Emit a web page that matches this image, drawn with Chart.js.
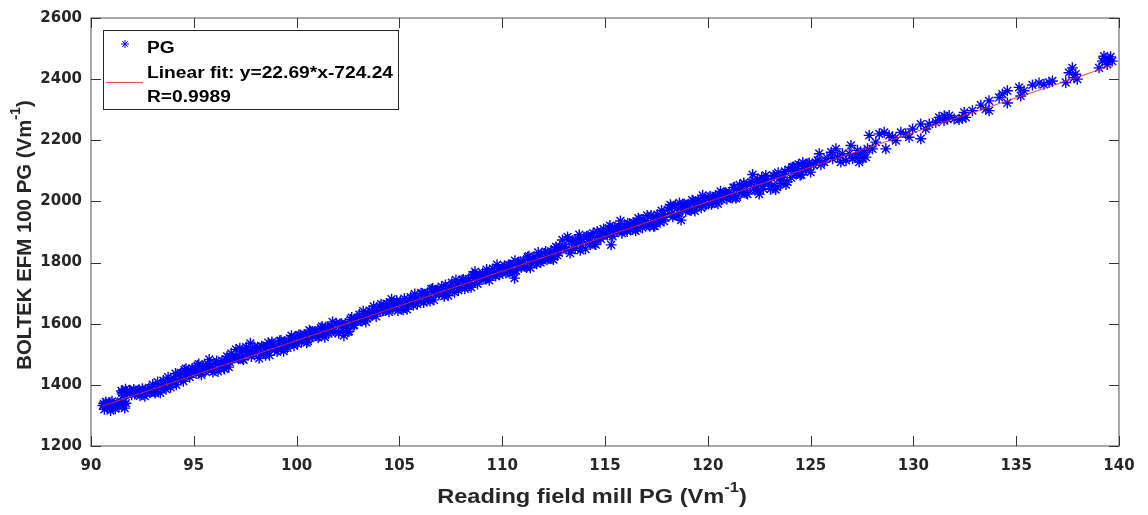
<!DOCTYPE html>
<html>
<head>
<meta charset="utf-8">
<script src="https://cdn.jsdelivr.net/npm/chart.js@4.4.1/dist/chart.umd.min.js"></script>
<style>
    html, body { margin: 0; padding: 0; background: #fff; }
    #wrap { width: 1148px; height: 515px; }
</style>
</head>
<body>
<div id="wrap"><canvas id="chart" width="1148" height="515"></canvas></div>
<script>
// Reading field mill PG (x) vs BOLTEK EFM 100 PG (y)
const fieldMill = [
    90.58, 90.65, 90.72, 90.8, 90.88, 90.95,
    91.02, 91.1, 91.18, 91.27, 91.36, 91.45, 91.55, 91.64, 91.7, 91.48, 91.58, 91.68, 91.78, 91.88, 91.98,
    92.08, 92.18, 92.28, 92.38, 92.5, 92.62, 92.75, 92.88,
    93.0, 93.12, 93.25, 93.4, 93.52, 93.65, 93.78, 93.9,
    94.02, 94.15, 94.3, 94.42, 94.55, 94.68, 94.8, 94.92,
    95.05, 95.18, 95.3, 95.43, 95.55, 95.68, 95.8, 95.93,
    96.05, 96.18, 96.3, 96.45, 96.58, 96.7, 96.82, 96.95,
    97.05, 97.18, 97.3, 97.42, 97.55, 97.68, 97.8, 97.93,
    98.05, 98.18, 98.3, 98.42, 98.55, 98.68, 98.8, 98.93,
    99.05, 99.18, 99.3, 99.42, 99.55, 99.68, 99.8, 99.93,
    100.05, 100.18, 100.3, 100.42, 100.55, 100.68, 100.8, 100.93,
    101.05, 101.18, 101.3, 101.42, 101.55, 101.68, 101.8, 101.93,
    102.05, 102.18, 102.3, 102.42, 102.55, 102.68, 102.8, 102.93,
    103.05, 103.18, 103.3, 103.42, 103.55, 103.68, 103.8, 103.93,
    104.05, 104.18, 104.3, 104.42, 104.55, 104.68, 104.8, 104.93,
    105.05, 105.18, 105.3, 105.42, 105.55, 105.68, 105.8, 105.93,
    106.05, 106.18, 106.3, 106.42, 106.55, 106.68, 106.8, 106.93,
    107.05, 107.18, 107.3, 107.42, 107.55, 107.68, 107.8, 107.93,
    108.05, 108.18, 108.3, 108.42, 108.55, 108.68, 108.8, 108.93,
    109.05, 109.18, 109.3, 109.42, 109.55, 109.68, 109.8, 109.93,
    110.05, 110.18, 110.3, 110.42, 110.55, 110.6, 110.68, 110.8, 110.93,
    111.05, 111.18, 111.3, 111.42, 111.55, 111.68, 111.8, 111.93,
    112.05, 112.18, 112.3, 112.42, 112.55, 112.68, 112.8, 112.93,
    113.05, 113.18, 113.3, 113.42, 113.55, 113.68, 113.8, 113.93,
    114.05, 114.18, 114.3, 114.42, 114.55, 114.68, 114.8, 114.93,
    115.05, 115.18, 115.3, 115.32, 115.45, 115.58, 115.7, 115.82, 115.95,
    116.08, 116.2, 116.32, 116.45, 116.58, 116.7, 116.82, 116.95,
    117.05, 117.18, 117.3, 117.42, 117.55, 117.68, 117.8, 117.93,
    118.05, 118.18, 118.3, 118.42, 118.55, 118.68, 118.7, 118.8, 118.93,
    119.05, 119.18, 119.3, 119.42, 119.55, 119.68, 119.8, 119.93,
    120.05, 120.18, 120.3, 120.42, 120.55, 120.68, 120.8, 120.93,
    121.05, 121.18, 121.3, 121.42, 121.55, 121.68, 121.8, 121.93,
    122.05, 122.18, 122.3, 122.42, 122.5, 122.58, 122.7, 122.82, 122.95,
    123.05, 123.18, 123.3, 123.42, 123.55, 123.68, 123.8, 123.93,
    124.05, 124.18, 124.3, 124.42, 124.55, 124.68, 124.8, 124.93,
    125.0, 125.15, 125.25, 125.34, 125.42, 125.5, 125.66, 125.8,
    126.0, 126.07, 126.23, 126.31, 126.47, 126.55, 126.72, 126.88, 126.96,
    127.04, 127.2, 127.28, 127.36, 127.44, 127.53, 127.61, 127.69, 127.77, 127.85,
    128.01, 128.17, 128.34, 128.58, 128.66, 128.82, 128.98,
    129.15, 129.39, 129.63, 129.79, 129.96,
    130.36, 130.36, 130.6, 130.77,
    131.09, 131.25, 131.49, 131.5, 131.66, 131.74, 131.98,
    132.22, 132.38, 132.47, 132.55, 132.87,
    133.28, 133.52, 133.68, 133.68,
    134.17, 134.33, 134.57, 134.57,
    135.14, 135.22, 135.38, 135.79,
    136.11, 136.35, 136.6, 136.76,
    137.41, 137.57, 137.73, 137.81, 137.89, 137.97,
    139.03, 139.19, 139.27, 139.35, 139.43, 139.51, 139.59, 139.67,
    // second pass through the dense part of the band
    90.62, 90.76, 90.92, 91.06, 91.22, 91.4, 91.6, 91.52, 91.73, 91.93,
    92.13, 92.33, 92.45, 92.56, 92.7, 92.82, 92.95,
    93.11, 93.24, 93.37, 93.49, 93.62, 93.75, 93.87,
    94.11, 94.24, 94.37, 94.49, 94.62, 94.75, 94.87,
    95.11, 95.24, 95.37, 95.49, 95.62, 95.75, 95.87,
    96.11, 96.24, 96.37, 96.49, 96.62, 96.75, 96.87,
    97.11, 97.24, 97.37, 97.49, 97.62, 97.75, 97.87,
    98.11, 98.24, 98.37, 98.49, 98.62, 98.75, 98.87,
    99.11, 99.24, 99.37, 99.49, 99.62, 99.75, 99.87,
    100.11, 100.24, 100.37, 100.49, 100.62, 100.75, 100.87,
    101.11, 101.24, 101.37, 101.49, 101.62, 101.75, 101.87,
    102.11, 102.24, 102.37, 102.49, 102.62, 102.75, 102.87,
    103.11, 103.24, 103.37, 103.49, 103.62, 103.75, 103.87,
    104.11, 104.24, 104.37, 104.49, 104.62, 104.75, 104.87,
    105.11, 105.24, 105.37, 105.49, 105.62, 105.75, 105.87,
    106.11, 106.24, 106.37, 106.49, 106.62, 106.75, 106.87,
    107.11, 107.24, 107.37, 107.49, 107.62, 107.75, 107.87,
    108.11, 108.24, 108.37, 108.49, 108.62, 108.75, 108.87,
    109.11, 109.24, 109.37, 109.49, 109.62, 109.75, 109.87,
    110.11, 110.24, 110.37, 110.49, 110.62, 110.75, 110.87,
    111.11, 111.24, 111.37, 111.49, 111.62, 111.75, 111.87,
    112.11, 112.24, 112.37, 112.49, 112.62, 112.75, 112.87,
    113.11, 113.24, 113.37, 113.49, 113.62, 113.75, 113.87,
    114.11, 114.24, 114.37, 114.49, 114.62, 114.75, 114.87,
    115.11, 115.24, 115.37, 115.49, 115.62, 115.75, 115.87,
    116.11, 116.24, 116.37, 116.49, 116.62, 116.75, 116.87,
    117.11, 117.24, 117.37, 117.49, 117.62, 117.75, 117.87,
    118.11, 118.24, 118.37, 118.49, 118.62, 118.75, 118.87,
    119.11, 119.24, 119.37, 119.49, 119.62, 119.75, 119.87,
    120.11, 120.24, 120.37, 120.49, 120.62, 120.75, 120.87,
    121.11, 121.24, 121.37, 121.49, 121.62, 121.75, 121.87,
    122.11, 122.24, 122.37, 122.49, 122.62, 122.75, 122.87,
    123.11, 123.24, 123.37, 123.49, 123.62, 123.75, 123.87,
    124.11, 124.24, 124.37, 124.49, 124.62, 124.75, 124.87
];
const boltek = [
    1332, 1320, 1344, 1326, 1338, 1316,
    1346, 1330, 1322, 1340, 1328, 1345, 1334, 1324, 1340, 1380, 1366, 1386, 1372, 1382, 1368,
    1385, 1374, 1378, 1364, 1387, 1363, 1385, 1375,
    1401, 1373, 1396, 1389, 1414, 1386, 1412, 1402,
    1421, 1400, 1435, 1420, 1449, 1434, 1425, 1454,
    1446, 1463, 1442, 1459, 1444, 1469, 1457, 1442,
    1469, 1444, 1467, 1456, 1483, 1458, 1503, 1488,
    1516, 1485, 1508, 1482, 1523, 1506, 1493, 1524,
    1511, 1487, 1526, 1503, 1526, 1497, 1540, 1522,
    1509, 1544, 1523, 1542, 1521, 1552, 1536, 1555,
    1534, 1563, 1550, 1564, 1543, 1575, 1557, 1574,
    1555, 1586, 1570, 1589, 1568, 1593, 1578, 1601,
    1569, 1600, 1561, 1592, 1575, 1620, 1596, 1617,
    1630, 1609, 1630, 1618, 1643, 1628, 1645, 1638,
    1657, 1642, 1658, 1649, 1668, 1649, 1666, 1643,
    1673, 1646, 1671, 1658, 1687, 1660, 1684, 1673,
    1700, 1669, 1694, 1680, 1713, 1678, 1709, 1698,
    1721, 1690, 1716, 1703, 1734, 1703, 1730, 1719,
    1743, 1714, 1737, 1724, 1759, 1770, 1730, 1757,
    1766, 1747, 1768, 1759, 1780, 1756, 1781, 1768,
    1783, 1766, 1792, 1775, 1796, 1749, 1773, 1798, 1785,
    1807, 1784, 1821, 1800, 1819, 1796, 1820, 1807,
    1830, 1809, 1830, 1813, 1844, 1824, 1853, 1874,
    1851, 1884, 1831, 1871, 1846, 1879, 1840, 1875,
    1844, 1887, 1861, 1896, 1859, 1896, 1877, 1910,
    1894, 1913, 1858, 1894, 1915, 1904, 1917, 1896, 1919,
    1902, 1926, 1909, 1928, 1911, 1940, 1914, 1935,
    1954, 1919, 1945, 1920, 1957, 1932, 1959, 1948,
    1972, 1989, 1950, 1987, 1952, 1979, 1939, 1991, 1968,
    1991, 1970, 2001, 1981, 2002, 1979, 2004, 1991,
    2012, 1991, 2013, 1998, 2023, 2006, 2027, 2008,
    2030, 2011, 2046, 2015, 2054, 2031, 2053, 2024,
    2055, 2088, 2037, 2073, 2024, 2061, 2042, 2085, 2059,
    2040, 2085, 2039, 2094, 2059, 2088, 2055, 2104,
    2078, 2113, 2090, 2121, 2088, 2115, 2104, 2126,
    2096, 2118, 2128, 2134, 2156, 2120, 2129, 2142,
    2161, 2140, 2172, 2145, 2129, 2156, 2134, 2156, 2183,
    2140, 2145, 2167, 2129, 2156, 2140, 2161, 2145, 2172, 2216,
    2172, 2194, 2221, 2226, 2172, 2216, 2210,
    2199, 2226, 2221, 2210, 2237,
    2205, 2253, 2237, 2253,
    2259, 2275, 2264, 2280, 2270, 2281, 2270,
    2268, 2272, 2291, 2275, 2297,
    2315, 2302, 2329, 2297,
    2340, 2351, 2362, 2322,
    2373, 2345, 2362, 2381,
    2387, 2383, 2389, 2394,
    2389, 2421, 2437, 2405, 2416, 2400,
    2437, 2459, 2475, 2467, 2448, 2465, 2473, 2459,
    // second pass through the dense part of the band
    1338, 1330, 1342, 1326, 1334, 1338, 1346, 1374, 1378, 1375,
    1370, 1384, 1370, 1378, 1372, 1390, 1380,
    1378, 1409, 1374, 1403, 1396, 1425, 1392,
    1437, 1416, 1439, 1412, 1453, 1434, 1448,
    1437, 1468, 1433, 1461, 1454, 1483, 1450,
    1478, 1456, 1479, 1452, 1493, 1474, 1489,
    1489, 1520, 1485, 1514, 1507, 1536, 1502,
    1523, 1502, 1525, 1497, 1538, 1519, 1534,
    1515, 1545, 1510, 1539, 1532, 1561, 1528,
    1563, 1542, 1565, 1538, 1579, 1560, 1574,
    1560, 1591, 1556, 1585, 1578, 1606, 1573,
    1599, 1578, 1601, 1573, 1614, 1595, 1610,
    1610, 1641, 1606, 1635, 1628, 1657, 1624,
    1664, 1643, 1666, 1639, 1680, 1661, 1675,
    1651, 1682, 1647, 1675, 1668, 1697, 1664,
    1699, 1678, 1701, 1674, 1715, 1696, 1711,
    1696, 1727, 1692, 1721, 1714, 1743, 1709,
    1745, 1724, 1747, 1719, 1760, 1741, 1756,
    1746, 1777, 1742, 1771, 1764, 1793, 1760,
    1790, 1769, 1792, 1765, 1806, 1787, 1801,
    1787, 1818, 1783, 1811, 1804, 1833, 1800,
    1836, 1814, 1837, 1810, 1851, 1832, 1847,
    1844, 1875, 1840, 1869, 1862, 1891, 1857,
    1886, 1865, 1888, 1861, 1902, 1882, 1897,
    1890, 1921, 1886, 1914, 1907, 1936, 1903,
    1929, 1908, 1931, 1904, 1945, 1926, 1941,
    1923, 1954, 1919, 1948, 1941, 1970, 1936,
    1980, 1959, 1982, 1954, 1995, 1976, 1991,
    1973, 2004, 1969, 1998, 1991, 2020, 1987,
    2017, 1996, 2019, 1992, 2033, 2014, 2028,
    2014, 2045, 2010, 2038, 2031, 2060, 2027,
    2062, 2041, 2064, 2037, 2078, 2059, 2074,
    2051, 2082, 2047, 2076, 2069, 2098, 2064,
    2112, 2091, 2114, 2086, 2127, 2108, 2123
];

// Linear fit y = 22.69*x - 724.24, ends of the drawn line
const fitX = [90.52, 139.7];
const fitY = [1329.7, 2445.6];

const xTicks = [90, 95, 100, 105, 110, 115, 120, 125, 130, 135, 140];
const yTicks = [1200, 1400, 1600, 1800, 2000, 2200, 2400, 2600];

const legendLines = ['PG', 'Linear fit: y=22.69*x-724.24', 'R=0.9989'];
const xTitle = ['Reading field mill PG (Vm', '-1', ')'];
const yTitle = ['BOLTEK EFM 100 PG (Vm', '-1', ')'];

const TXT = '#262626';

// text with a superscript part, centred on (0,0)
function drawSupText(ctx, parts, size, sx) {
    const big = `bold ${size}px "Liberation Sans", Arial, sans-serif`;
    const small = `bold ${Math.round(size * 0.72)}px "Liberation Sans", Arial, sans-serif`;
    ctx.font = big;
    const w0 = ctx.measureText(parts[0]).width;
    const w2 = ctx.measureText(parts[2]).width;
    ctx.font = small;
    const w1 = ctx.measureText(parts[1]).width;
    const total = w0 + w1 + w2;
    ctx.scale(sx, 1);
    ctx.textAlign = 'left';
    ctx.textBaseline = 'middle';
    let x = -total / 2;
    ctx.font = big;
    ctx.fillText(parts[0], x, 0);
    x += w0;
    ctx.font = small;
    ctx.fillText(parts[1], x, -size * 0.42);
    x += w1;
    ctx.font = big;
    ctx.fillText(parts[2], x, 0);
}

const matlabAxes = {
    id: 'matlabAxes',
    beforeDatasetsDraw(chart) {
        const { ctx, chartArea: a, scales } = chart;
        ctx.save();
        ctx.strokeStyle = '#8c8c8c';
        ctx.lineWidth = 1.5;
        ctx.strokeRect(a.left, a.top, a.right - a.left, a.bottom - a.top);
        ctx.strokeStyle = '#333';
        ctx.lineWidth = 1;
        ctx.beginPath();
        scales.x.ticks.forEach(t => {
            const px = Math.round(scales.x.getPixelForValue(t.value)) + 0.5;
            ctx.moveTo(px, a.bottom); ctx.lineTo(px, a.bottom - 10);
            ctx.moveTo(px, a.top); ctx.lineTo(px, a.top + 10);
        });
        scales.y.ticks.forEach(t => {
            const py = Math.round(scales.y.getPixelForValue(t.value)) + 0.5;
            ctx.moveTo(a.left, py); ctx.lineTo(a.left + 10, py);
            ctx.moveTo(a.right, py); ctx.lineTo(a.right - 10, py);
        });
        ctx.stroke();
        ctx.restore();
    },
    afterDraw(chart) {
        const { ctx, chartArea: a } = chart;

        // axis titles
        ctx.save();
        ctx.fillStyle = TXT;
        ctx.translate(592, 497);
        drawSupText(ctx, xTitle, 20, 1.18);
        ctx.restore();

        ctx.save();
        ctx.fillStyle = TXT;
        ctx.translate(25, (a.top + a.bottom) / 2 + 3);
        ctx.rotate(-Math.PI / 2);
        drawSupText(ctx, yTitle, 20, 1.02);
        ctx.restore();

        // legend box
        const lx = a.left + 12, ly = a.top + 12, lw = 295, lh = 79;
        ctx.save();
        ctx.fillStyle = '#fff';
        ctx.fillRect(lx, ly, lw, lh);
        ctx.strokeStyle = '#262626';
        ctx.lineWidth = 1;
        ctx.strokeRect(lx + 0.5, ly + 0.5, lw, lh);

        ctx.strokeStyle = '#0000ff';
        ctx.fillStyle = '#0000ff';
        Chart.helpers.drawPoint(ctx, { pointStyle: 'star', radius: 4, rotation: 0, borderWidth: 1 }, lx + 22, ly + 14);

        ctx.strokeStyle = 'rgba(255,40,40,0.85)';
        ctx.beginPath();
        ctx.moveTo(lx + 3, ly + 52.5);
        ctx.lineTo(lx + 40, ly + 52.5);
        ctx.stroke();

        ctx.fillStyle = '#000';
        ctx.font = 'bold 16px "Liberation Sans", Arial, sans-serif';
        ctx.textAlign = 'left';
        ctx.textBaseline = 'alphabetic';
        const baselines = [23, 48, 72];
        legendLines.forEach((s, i) => {
            ctx.save();
            ctx.translate(lx + 44, ly + baselines[i]);
            ctx.scale(1.2, 1);
            ctx.fillText(s, 0, 0);
            ctx.restore();
        });
        ctx.restore();
    }
};

const tickFont = { family: '"DejaVu Sans", sans-serif', weight: 'bold', size: 15 };

new Chart(document.getElementById('chart'), {
    type: 'scatter',
    data: {
        datasets: [{
            label: 'Linear fit',
            data: fitX.map((x, i) => ({ x: x, y: fitY[i] })),
            showLine: true,
            borderColor: 'rgba(255,30,30,0.85)',
            borderWidth: 1,
            pointRadius: 0,
            order: 0
        }, {
            label: 'PG',
            data: fieldMill.map((x, i) => ({ x: x, y: boltek[i] })),
            pointStyle: 'star',
            pointRadius: 5.5,
            borderColor: '#0000ff',
            backgroundColor: '#0000ff',
            borderWidth: 1.4,
            order: 1
        }]
    },
    options: {
        responsive: false,
        animation: false,
        devicePixelRatio: 1,
        layout: { padding: { left: 0, top: 15, right: 29, bottom: 0 } },
        plugins: {
            legend: { display: false },
            tooltip: { enabled: false }
        },
        scales: {
            x: {
                type: 'linear',
                min: 90,
                max: 140,
                afterBuildTicks: s => { s.ticks = xTicks.map(v => ({ value: v })); },
                afterFit: s => { s.height = 69; },
                grid: { display: false, drawTicks: false },
                border: { display: false },
                ticks: {
                    autoSkip: false,
                    maxRotation: 0,
                    padding: 11,
                    color: TXT,
                    font: tickFont,
                    callback: v => String(v)
                }
            },
            y: {
                type: 'linear',
                min: 1200,
                max: 2600,
                afterBuildTicks: s => { s.ticks = yTicks.map(v => ({ value: v })); },
                afterFit: s => { s.width = 91; },
                grid: { display: false, drawTicks: false },
                border: { display: false },
                ticks: {
                    autoSkip: false,
                    padding: 9,
                    color: TXT,
                    font: tickFont,
                    callback: v => String(v)
                }
            }
        }
    },
    plugins: [matlabAxes]
});
</script>
</body>
</html>
